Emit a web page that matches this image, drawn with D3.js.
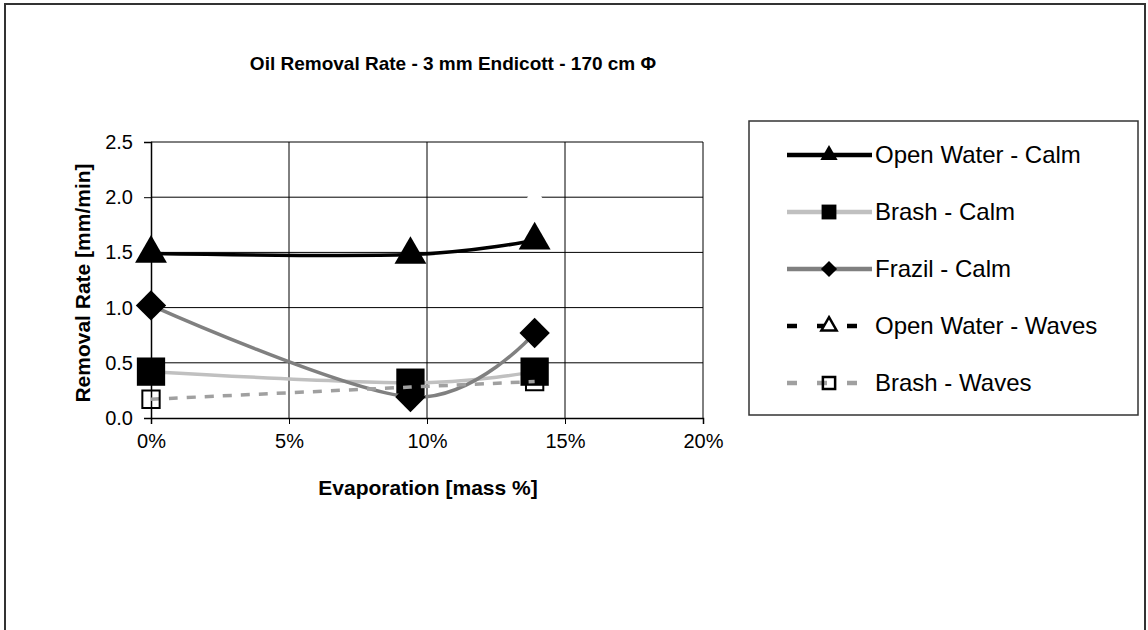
<!DOCTYPE html>
<html lang="en">
<head>
<meta charset="UTF-8">
<title>Oil Removal Rate</title>
<script src="https://d3js.org/d3.v7.min.js"></script>
<style>
  body { margin: 0; background: #fff; }
  svg { display: block; font-family: Arial, "Liberation Sans", sans-serif; }
</style>
</head>
<body>
<svg id="chart" width="1148" height="630"></svg>
<script>
// evaporation (mass %) for each measurement
const evap = [0, 9.4, 13.9];

// removal rates [mm/min]
const owCalm     = [1.49, 1.48, 1.61];
const brashCalm  = [0.42, 0.32, 0.42];
const frazilCalm = [1.02, 0.19, 0.77];
const owWavesX   = [13.9];
const owWaves    = [2.0];
const brashWaves = [0.17, 0.28, 0.33];

const xTicks = [0, 5, 10, 15, 20];
const yTicks = [0, 0.5, 1.0, 1.5, 2.0, 2.5];

const legendNames = ["Open Water - Calm", "Brash - Calm", "Frazil - Calm", "Open Water - Waves", "Brash - Waves"];

const svg = d3.select("#chart");

// outer chart frame
svg.append("rect")
  .attr("x", 5).attr("y", 4).attr("width", 1140).attr("height", 640)
  .attr("fill", "none").attr("stroke", "#333").attr("stroke-width", 2);

const x = d3.scaleLinear().domain([0, 20]).range([151, 703]);
const y = d3.scaleLinear().domain([0, 2.5]).range([418, 142]);

// gridlines
const grid = svg.append("g");
grid.selectAll("line.h").data(yTicks.slice(1)).enter().append("line")
  .attr("x1", x(0)).attr("x2", x(20))
  .attr("y1", d => y(d)).attr("y2", d => y(d))
  .attr("stroke", "#000").attr("stroke-width", 1);
grid.selectAll("line.v").data(xTicks.slice(1)).enter().append("line")
  .attr("x1", d => x(d)).attr("x2", d => x(d))
  .attr("y1", y(0)).attr("y2", y(2.5))
  .attr("stroke", "#000").attr("stroke-width", 1);

// axes
const xAxis = svg.append("g")
  .attr("transform", "translate(0," + y(0) + ")")
  .call(d3.axisBottom(x).tickValues(xTicks).tickSize(6).tickPadding(10).tickFormat(d => d + "%"));
const yAxis = svg.append("g")
  .attr("transform", "translate(" + x(0) + ",0)")
  .call(d3.axisLeft(y).tickValues(yTicks).tickSize(7).tickPadding(11).tickFormat(d3.format(".1f")));
[xAxis, yAxis].forEach(a => {
  a.select(".domain").attr("stroke", "#000").attr("stroke-width", 1.5);
  a.selectAll("line").attr("stroke", "#000");
  a.selectAll("text").attr("fill", "#000").style("font-size", "20px");
});

// excel-style smoothing
const line = d3.line().curve(d3.curveCatmullRom.alpha(0));

function series(xs, ys, color, dash) {
  svg.append("path")
    .attr("d", line(xs.map((v, i) => [x(v), y(ys[i])])))
    .attr("fill", "none").attr("stroke", color).attr("stroke-width", 3.5)
    .attr("stroke-dasharray", dash || null);
}

const sym = {
  tri: d3.symbol().type(d3.symbolTriangle),
  sq: d3.symbol().type(d3.symbolSquare),
  dia: d3.symbol().type(d3.symbolSquare)
};

function markers(xs, ys, type, size, fill, stroke, sw) {
  svg.append("g").selectAll("path").data(xs).enter().append("path")
    .attr("d", sym[type].size(size)())
    .attr("transform", (d, i) => "translate(" + x(d) + "," + y(ys[i]) + ")" + (type === "dia" ? " rotate(45)" : ""))
    .attr("fill", fill).attr("stroke", stroke).attr("stroke-width", sw);
}

series(evap, owCalm, "#000");
markers(evap, owCalm, "tri", 440, "#000", "none", 0);
series(evap, brashCalm, "#c0c0c0");
markers(evap, brashCalm, "sq", 800, "#000", "none", 0);
series(evap, frazilCalm, "#808080");
markers(evap, frazilCalm, "dia", 460, "#000", "none", 0);
// open water - waves point only shows as a white gap
markers(owWavesX, owWaves, "tri", 200, "#fff", "none", 0);
series(evap, brashWaves, "#a0a0a0", "9,9");
markers(evap, brashWaves, "sq", 300, "none", "#000", 2);

// titles
svg.append("text").attr("x", 453).attr("y", 70).attr("text-anchor", "middle")
  .style("font-size", "19px").style("font-weight", "bold").text("Oil Removal Rate - 3 mm Endicott - 170 cm \u03A6");
svg.append("text").attr("x", 428).attr("y", 495).attr("text-anchor", "middle")
  .style("font-size", "21px").style("font-weight", "bold").text("Evaporation [mass %]");
svg.append("text").attr("transform", "translate(90,283) rotate(-90)").attr("text-anchor", "middle")
  .style("font-size", "21px").style("font-weight", "bold").text("Removal Rate [mm/min]");

// legend
const lg = svg.append("g");
lg.append("rect").attr("x", 749).attr("y", 121).attr("width", 389).attr("height", 294)
  .attr("fill", "#fff").attr("stroke", "#333").attr("stroke-width", 1.5);

const legendStyle = [
  { color: "#000", dash: null, type: "tri", fill: "#000", stroke: "none", size: 130 },
  { color: "#c0c0c0", dash: null, type: "sq", fill: "#000", stroke: "none", size: 220 },
  { color: "#808080", dash: null, type: "dia", fill: "#000", stroke: "none", size: 130 },
  { color: "#000", dash: "10,20", type: "tri", fill: "#fff", stroke: "#000", size: 100 },
  { color: "#a0a0a0", dash: "10,20", type: "sq", fill: "none", stroke: "#000", size: 150 }
];

const items = lg.selectAll("g.item").data(legendNames).enter().append("g")
  .attr("transform", (d, i) => "translate(0," + (155 + i * 57) + ")");
items.append("line")
  .attr("x1", 787).attr("x2", 872).attr("y1", 0).attr("y2", 0)
  .attr("stroke", (d, i) => legendStyle[i].color).attr("stroke-width", 4.5)
  .attr("stroke-dasharray", (d, i) => legendStyle[i].dash);
items.append("path")
  .attr("d", (d, i) => sym[legendStyle[i].type].size(legendStyle[i].size)())
  .attr("transform", (d, i) => "translate(829,0)" + (legendStyle[i].type === "dia" ? " rotate(45)" : ""))
  .attr("fill", (d, i) => legendStyle[i].fill)
  .attr("stroke", (d, i) => legendStyle[i].stroke).attr("stroke-width", 2.5);
items.append("text").attr("x", 875).attr("y", 8)
  .style("font-size", "24px").attr("fill", "#000").text(d => d);
</script>
</body>
</html>
